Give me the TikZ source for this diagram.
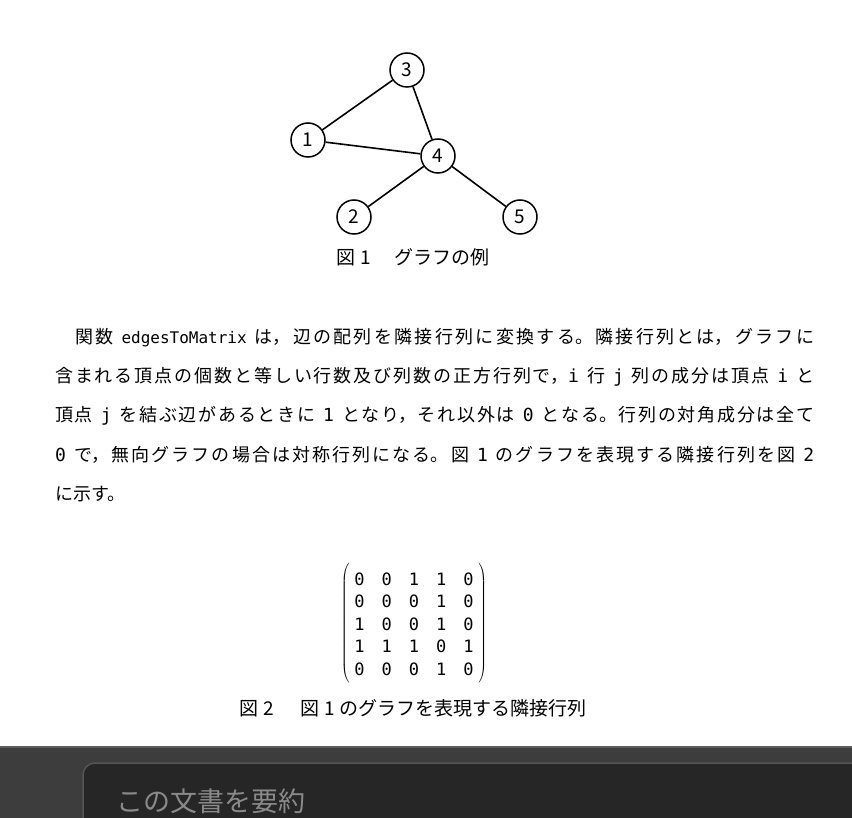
\documentclass[tikz,border=0pt]{standalone}
\usepackage{fontspec}
\setmainfont{Noto Sans CJK JP}
\newfontfamily\monof{DejaVu Sans Mono}
\usetikzlibrary{matrix}
\XeTeXlinebreaklocale "ja"
\XeTeXlinebreakskip=0pt plus 4pt
\definecolor{barbg}{HTML}{3D3D3D}
\definecolor{barline}{HTML}{5E5E5E}
\definecolor{boxbg}{HTML}{262626}
\definecolor{boxline}{HTML}{555555}
\definecolor{boxtext}{HTML}{8A8A8A}
\tikzset{
  vtx/.style={circle,draw,line width=1.5pt,minimum size=34pt,inner sep=0pt,font=\fontsize{19}{19}\selectfont},
  edge/.style={line width=1.6pt},
  para/.style={anchor=west,inner sep=0pt,font=\fontsize{18}{18}\selectfont},
  capt/.style={inner sep=0pt,font=\fontsize{19}{19}\selectfont},
}
\newcommand{\jline}[2]{\parbox{#1}{\noindent\parfillskip=0pt\relax #2}}
\newcommand{\fsp}{\hspace{8pt}}
\newcommand{\mo}[1]{{\monof\fontsize{16}{16}\selectfont #1}}
\newcommand{\md}[1]{{\monof\fontsize{18}{18}\selectfont #1}}
\begin{document}
\begin{tikzpicture}[x=1pt,y=-1pt]
\useasboundingbox (0,0) rectangle (852,818);
\fill[white] (0,0) rectangle (852,818);
% graph
\node[vtx] (n3) at (407,70) {3};
\node[vtx] (n1) at (308,140) {1};
\node[vtx] (n4) at (438,156) {4};
\node[vtx] (n2) at (354,217) {2};
\node[vtx] (n5) at (520,217) {5};
\draw[edge] (n1) -- (n3);
\draw[edge] (n3) -- (n4);
\draw[edge] (n1) -- (n4);
\draw[edge] (n4) -- (n2);
\draw[edge] (n4) -- (n5);
\node[capt] (cap1) at (413,257) {図\hspace{5pt}1\hspace{24pt}グラフの例};
% paragraph
\node[para] (l1) at (75,338) {\jline{739pt}{関数\fsp{}\mo{edgesToMatrix}\fsp{}は，辺の配列を隣接行列に変換する。隣接行列とは，グラフに}};
\node[para] (l2) at (55,377) {\jline{759pt}{含まれる頂点の個数と等しい行数及び列数の正方行列で，\md{i}\fsp{}行\fsp{}\md{j}\fsp{}列の成分は頂点\fsp{}\md{i}\fsp{}と}};
\node[para] (l3) at (55,416) {\jline{759pt}{頂点\fsp{}\md{j}\fsp{}を結ぶ辺があるときに\fsp{}\md{1}\fsp{}となり，それ以外は\fsp{}\md{0}\fsp{}となる。行列の対角成分は全て}};
\node[para] (l4) at (55,455) {\jline{759pt}{\md{0}\fsp{}で，無向グラフの場合は対称行列になる。図\fsp{}\md{1}\fsp{}のグラフを表現する隣接行列を図\fsp{}\md{2}}};
\node[para] (l5) at (55,494) {に示す。};
% matrix
\matrix (m) [matrix of nodes, left delimiter=(, right delimiter=),
  nodes={inner sep=0pt, minimum width=8pt, minimum height=22pt, font=\monof\fontsize{17}{17}\selectfont},
  column sep=17pt, row sep=0.5pt] at (414,624) {
0 & 0 & 1 & 1 & 0 \\
0 & 0 & 0 & 1 & 0 \\
1 & 0 & 0 & 1 & 0 \\
1 & 1 & 1 & 0 & 1 \\
0 & 0 & 0 & 1 & 0 \\
};
\node[capt] (cap2) at (413,708) {図\hspace{5pt}2\hspace{26pt}図\hspace{5pt}1\hspace{4pt}のグラフを表現する隣接行列};
% bottom bar
\fill[barbg] (0,746) rectangle (852,818);
\draw[barline,line width=2pt] (0,747) -- (852,747);
\draw[boxline,fill=boxbg,line width=1.5pt,rounded corners=12pt] (83,763) rectangle (900,860);
\node[anchor=west,inner sep=0pt,text=boxtext,font=\fontsize{27}{27}\selectfont] (sum) at (116,801) {この文書を要約};
\end{tikzpicture}
\end{document}
